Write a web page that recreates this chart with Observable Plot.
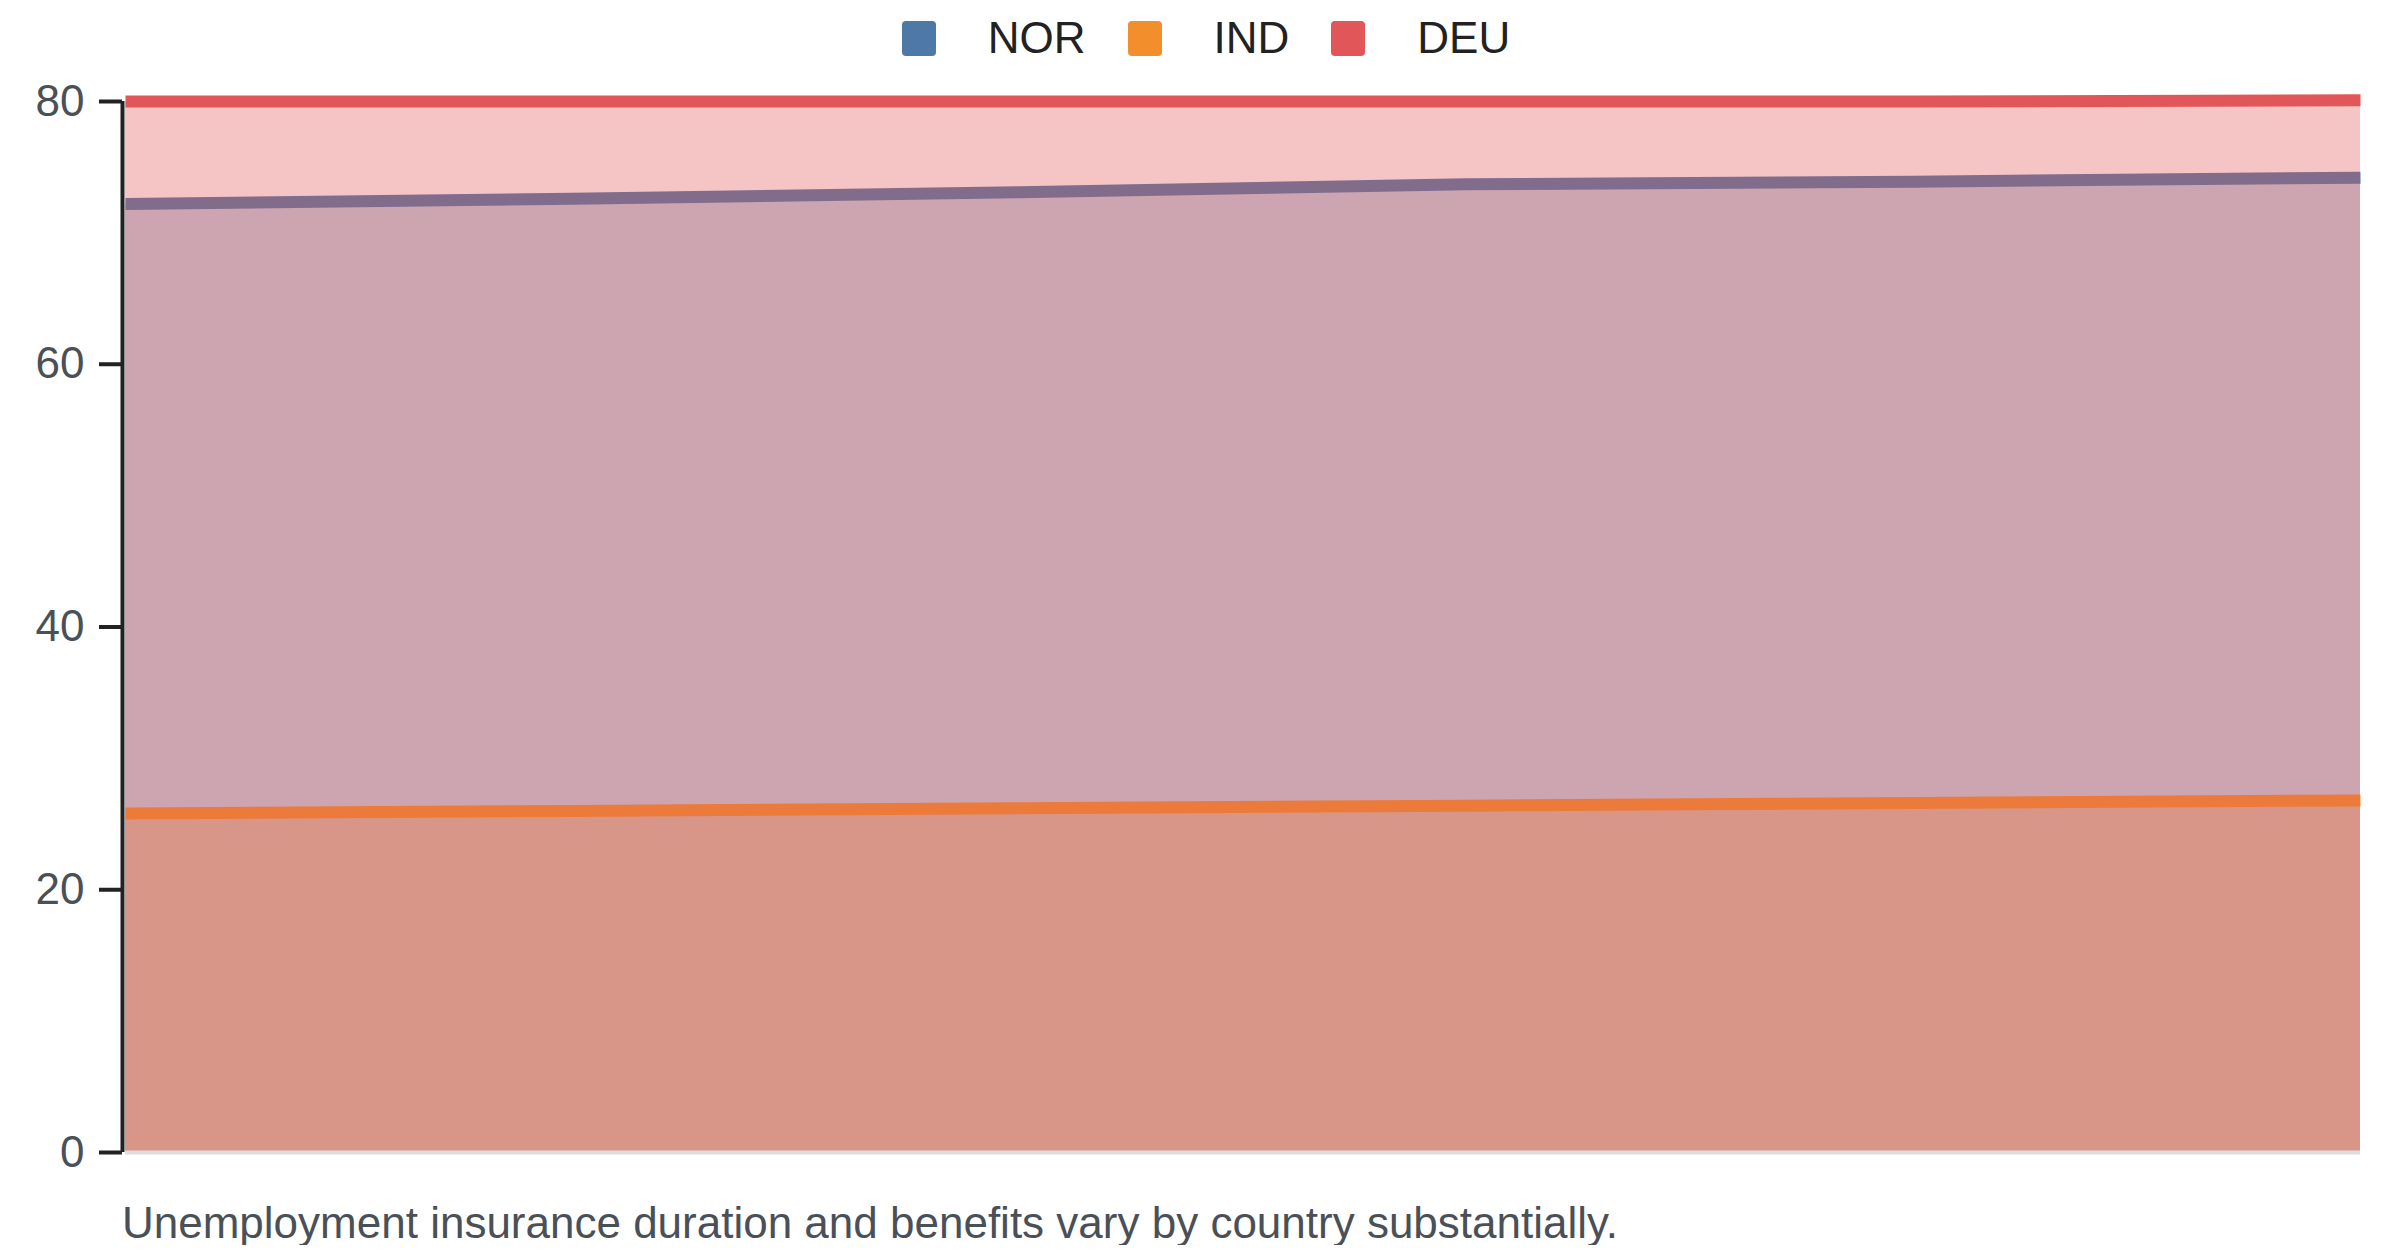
<!DOCTYPE html>
<html>
<head>
<meta charset="utf-8">
<script src="https://cdn.jsdelivr.net/npm/d3@7"></script>
<script src="https://cdn.jsdelivr.net/npm/@observablehq/plot@0.6"></script>
<style>
  html, body { margin: 0; padding: 0; background: #fff; overflow: hidden; }
  body { width: 2400px; font-family: "Liberation Sans", Arial, Helvetica, sans-serif; }
  #legend { height: 76px; display: flex; justify-content: center; align-items: center; padding-left: 12px; box-sizing: border-box; }
  .item { display: flex; align-items: center; margin: 0 21px; }
  .sw { width: 34px; height: 35px; border-radius: 4px; margin-right: 52px; }
  .lab { font-size: 44px; line-height: 44px; color: #222; }
  #chart svg { display: block; }
  #caption { font-size: 44px; line-height: 44px; color: #4a5058; padding-left: 122px; margin-top: 24px; }
</style>
</head>
<body>
<div id="legend"></div>
<div id="chart"></div>
<div id="caption">Unemployment insurance duration and benefits vary by country substantially.</div>
<script>
const years = [2015, 2016, 2017, 2018, 2019, 2020];
const NOR = [72.2, 72.6, 73.1, 73.7, 73.9, 74.2];
const IND = [25.8, 26.0, 26.2, 26.4, 26.6, 26.8];
const DEU = [80.0, 80.0, 80.0, 80.0, 80.0, 80.1];
const seriesNames = ["NOR", "IND", "DEU"];
const seriesColors = ["#4e79a7", "#f28e2c", "#e15759"];
const yTicks = [0, 20, 40, 60, 80];

const valuesByName = {NOR, IND, DEU};

// legend
const legend = document.getElementById("legend");
seriesNames.forEach((name, i) => {
  const item = document.createElement("div");
  item.className = "item";
  const sw = document.createElement("div");
  sw.className = "sw";
  sw.style.background = seriesColors[i];
  const lab = document.createElement("span");
  lab.className = "lab";
  lab.textContent = name;
  item.appendChild(sw);
  item.appendChild(lab);
  legend.appendChild(item);
});

const marks = [];
seriesNames.forEach((name, i) => {
  const rows = years.map((yr, j) => ({year: yr, value: valuesByName[name][j]}));
  marks.push(Plot.area(rows, {x1: "year", y1: 0, y2: "value", fill: seriesColors[i], fillOpacity: 0.35}));
  marks.push(Plot.line(rows, {x: "year", y: "value", stroke: seriesColors[i], strokeWidth: 12, strokeLinecap: "butt"}));
});
marks.push(Plot.ruleY([0], {stroke: "#dddddd", strokeWidth: 4}));
marks.push(Plot.ruleX([years[0]], {y1: 0, y2: 80, dx: -3, stroke: "#222", strokeWidth: 4}));
marks.push(Plot.axisY({ticks: yTicks, label: null, tickSize: 23, tickPadding: 15, dx: -3, fontSize: 44, stroke: "#222", strokeWidth: 4, fill: "#4a5058", tickFormat: d => String(d)}));

const chart = Plot.plot({
  width: 2400,
  height: 1101,
  marginLeft: 125,
  marginRight: 40,
  marginTop: 25,
  marginBottom: 25,
  style: {fontFamily: "'Liberation Sans', Arial, Helvetica, sans-serif", fontSize: "44px", background: "#fff"},
  x: {domain: [years[0], years[years.length - 1]], axis: null},
  y: {domain: [0, 80], axis: null, label: null},
  marks
});
document.getElementById("chart").appendChild(chart);
</script>
</body>
</html>
